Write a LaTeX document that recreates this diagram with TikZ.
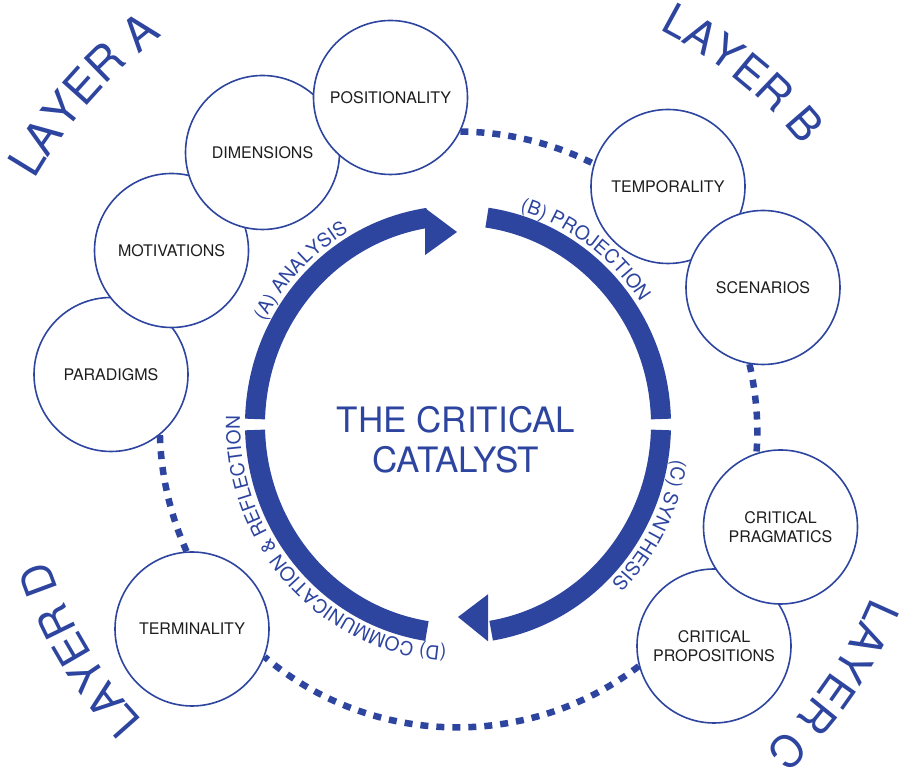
\documentclass[tikz,border=0pt]{standalone}
\usepackage{fontspec}
\setmainfont{TeX Gyre Heros}
\usetikzlibrary{decorations.text}
\definecolor{cblue}{RGB}{46,69,160}
\definecolor{lblcol}{RGB}{30,30,30}
\newcommand{\lblfont}{\fontsize{16}{18.5}\selectfont}
\newcommand{\centerfont}{\fontsize{35}{40}\selectfont}
\newcommand{\ringfont}{\fontsize{19.2}{21}\selectfont\color{cblue}}
\newcommand{\layerfont}{\fontsize{44}{48}\selectfont\color{cblue}}
\newcommand{\layerAfont}{\fontsize{46}{50}\selectfont\color{cblue}}
\begin{document}
\begin{tikzpicture}[x=1pt,y=1pt,
  bub/.style={circle, draw=cblue, line width=1.6pt, fill=white, minimum size=154pt,
    inner sep=0pt, align=center, font=\lblfont, text=lblcol},
  dotline/.style={draw=cblue, line width=6.5pt, dash pattern=on 8pt off 8pt},
  ringband/.style={draw=cblue, line width=20pt},
  curvelabel/.style={decorate, decoration={text along path, text align=left}},
]
\useasboundingbox (0,0) rectangle (903,768);
\coordinate (O) at (458,343.5);

% layer A circles
\node[bub] (par) at (111,393.5) {PARADIGMS};
\node[bub] (mot) at (171.5,517.5) {MOTIVATIONS};
\node[bub] (dim) at (262.5,615.5) {DIMENSIONS};
\node[bub] (pos) at (390.5,670.5) {POSITIONALITY};
% layer B
\node[bub] (tem) at (668,581.5) {TEMPORALITY};
\node[bub] (sce) at (763,480.5) {SCENARIOS};
% layer C
\node[bub] (pro) at (714,122) {CRITICAL\\PROPOSITIONS};
\node[bub] (pra) at (780.5,241) {CRITICAL\\PRAGMATICS};
% layer D
\node[bub] (ter) at (192,139) {TERMINALITY};

% dotted connectors
\draw[dotline] (pos.-26) to[out=-0.4,in=153.1,looseness=0.86] (tem.163);
\draw[dotline] (sce.-100.6) to[out=-77.3,in=85.3,looseness=0.855] (pra.108.6);
\draw[dotline] (pro.-165) to[out=-142.7,in=-40.4,looseness=0.955] (ter.-21);
\draw[dotline] (ter.94.6) to[out=114,in=-88.7,looseness=0.86] (par.-51.2);

% ring
\draw[ringband] (O) ++(178.5:203 and 209) arc[start angle=178.5, end angle=98.5, x radius=203, y radius=209];
\fill[cblue] (425,559.9) -- (457,536) -- (425,512.9) -- cycle;
\draw[ringband] (O) ++(81.8:203 and 209) arc[start angle=81.8, end angle=1.5, x radius=203, y radius=209];
\draw[ringband] (O) ++(-1.5:203 and 209) arc[start angle=-1.5, end angle=-80.6, x radius=203, y radius=209];
\fill[cblue] (488,126.7) -- (458,151) -- (488,173.7) -- cycle;
\draw[ringband] (O) ++(-98.8:203 and 209) arc[start angle=-98.8, end angle=-178.5, x radius=203, y radius=209];

% centre title
\node[font=\centerfont, text=cblue, align=center] (title) at (456,328) {THE CRITICAL\\CATALYST};

% ring labels
\path[curvelabel, decoration={text={|\ringfont|(A) ANALYSIS}}]
  (O) ++(152.5:218 and 223) arc[start angle=152.5, end angle=100, x radius=218, y radius=223];
\path[curvelabel, decoration={text={|\ringfont|(B) PROJECTION}}]
  (O) ++(73.5:218 and 223) arc[start angle=73.5, end angle=20, x radius=218, y radius=223];
\path[curvelabel, decoration={text={|\ringfont|(C) SYNTHESIS}}]
  (O) ++(-9:218 and 223) arc[start angle=-9, end angle=-60, x radius=218, y radius=223];
\path[curvelabel, decoration={text={|\ringfont|(D) COMMUNICATION {\&} REFLECTION}}]
  (O) ++(-93:218 and 223) arc[start angle=-93, end angle=-200, x radius=218, y radius=223];

% layer labels
\path[curvelabel, decoration={text={|\layerAfont|LAYER A}}]
  (O) ++(150:489) arc[start angle=150, end angle=110, radius=489];
\path[curvelabel, decoration={text={|\layerfont|LAYER B}}]
  (O) ++(63:443) arc[start angle=63, end angle=20, radius=443];
\path[curvelabel, decoration={text={|\layerfont|LAYER C}}]
  (O) ++(-22.7:448) arc[start angle=-22.7, end angle=-60, radius=448];
\path[curvelabel, decoration={text={|\layerfont|LAYER D}}]
  (O) ++(223.2:432) arc[start angle=223.2, end angle=190, radius=432];
\end{tikzpicture}
\end{document}
